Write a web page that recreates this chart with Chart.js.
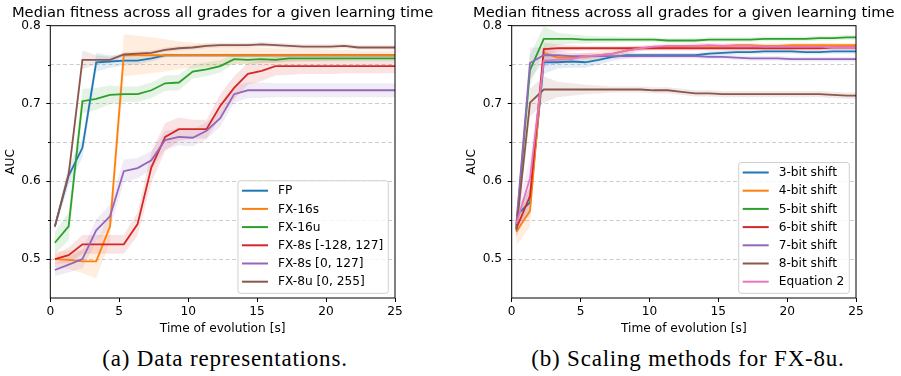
<!DOCTYPE html>
<html>
<head>
<meta charset="utf-8">
<script src="https://cdn.jsdelivr.net/npm/chart.js@4.4.1/dist/chart.umd.min.js"></script>
<style>
  body { margin: 0; background: #fff; }
  #wrap { position: relative; width: 901px; height: 376px; overflow: hidden; }
  canvas { position: absolute; top: 0; }
  .caption {
    position: absolute; top: 346px; width: 450px;
    font-family: "Liberation Serif", serif; font-size: 23px; line-height: 26px;
    letter-spacing: 0.8px; text-align: center; color: #000;
  }
</style>
</head>
<body>
<div id="wrap">
  <canvas id="reps" width="450" height="340" style="left:0"></canvas>
  <canvas id="scaling" width="451" height="340" style="left:450px"></canvas>
  <div class="caption" style="left:0">(a) Data representations.</div>
  <div class="caption" style="left:463px">(b) Scaling methods for FX-8u.</div>
</div>
<script>
Chart.defaults.font.family = "DejaVu Sans";
Chart.defaults.font.size = 12.2;
Chart.defaults.color = "#000";

var palette = ["#1f77b4", "#ff7f0e", "#2ca02c", "#d62728", "#9467bd", "#8c564b", "#e377c2"];
var titleText = "Median fitness across all grades for a given learning time";

// sample times (s), shared by both plots
var times = [0.33, 1.33, 2.33, 3.33, 4.33, 5.33, 6.33, 7.33, 8.33, 9.33, 10.33, 11.33, 12.33,
  13.33, 14.33, 15.33, 16.33, 17.33, 18.33, 19.33, 20.33, 21.33, 22.33, 23.33, 24.33, 25.33];

// (a) data representations: median AUC
var repNames = ["FP", "FX-16s", "FX-16u", "FX-8s [-128, 127]", "FX-8s [0, 127]", "FX-8u [0, 255]"];
var fp = [0.542, 0.607, 0.643, 0.753, 0.754, 0.755, 0.755, 0.758, 0.762, 0.762, 0.762, 0.762, 0.762,
  0.762, 0.762, 0.762, 0.762, 0.762, 0.762, 0.762, 0.762, 0.762, 0.762, 0.762, 0.762, 0.762];
var fx16s = [0.500, 0.499, 0.497, 0.497, 0.542, 0.762, 0.762, 0.762, 0.762, 0.762, 0.762, 0.762, 0.762,
  0.762, 0.762, 0.762, 0.762, 0.762, 0.762, 0.762, 0.762, 0.762, 0.762, 0.762, 0.762, 0.762];
var fx16u = [0.521, 0.542, 0.703, 0.706, 0.711, 0.712, 0.712, 0.717, 0.726, 0.727, 0.741, 0.744, 0.748,
  0.757, 0.756, 0.757, 0.756, 0.758, 0.758, 0.758, 0.758, 0.758, 0.758, 0.758, 0.758, 0.758];
var fx8sWide = [0.500, 0.505, 0.519, 0.519, 0.519, 0.519, 0.545, 0.618, 0.657, 0.667, 0.667, 0.667, 0.697,
  0.720, 0.738, 0.742, 0.748, 0.748, 0.748, 0.748, 0.748, 0.748, 0.748, 0.748, 0.748, 0.748];
var fx8sPos = [0.486, 0.493, 0.500, 0.537, 0.555, 0.613, 0.617, 0.627, 0.653, 0.657, 0.656, 0.665, 0.681,
  0.712, 0.717, 0.717, 0.717, 0.717, 0.717, 0.717, 0.717, 0.717, 0.717, 0.717, 0.717, 0.717];
var fx8u = [0.542, 0.609, 0.756, 0.756, 0.756, 0.763, 0.764, 0.765, 0.769, 0.771, 0.772, 0.774, 0.775,
  0.775, 0.775, 0.776, 0.775, 0.774, 0.773, 0.773, 0.773, 0.774, 0.772, 0.772, 0.772, 0.772];

// (a) half width of the shaded spread around each median
var fpSpread = [0.004, 0.012, 0.012, 0.012, 0.008, 0.006, 0.005, 0.004, 0.003, 0.002, 0.002, 0.002, 0.002,
  0.002, 0.002, 0.002, 0.002, 0.002, 0.002, 0.002, 0.002, 0.002, 0.002, 0.002, 0.002, 0.002];
var fx16sSpread = [0.010, 0.012, 0.015, 0.022, 0.020, 0.027, 0.025, 0.023, 0.021, 0.018, 0.016, 0.015, 0.014,
  0.012, 0.011, 0.010, 0.009, 0.009, 0.008, 0.008, 0.007, 0.007, 0.006, 0.006, 0.006, 0.006];
var fx16uSpread = [0.014, 0.018, 0.016, 0.014, 0.012, 0.010, 0.010, 0.010, 0.010, 0.010, 0.009, 0.009, 0.008,
  0.006, 0.005, 0.005, 0.004, 0.004, 0.004, 0.004, 0.004, 0.004, 0.004, 0.004, 0.004, 0.004];
var fx8sWideSpread = [0.006, 0.010, 0.012, 0.012, 0.012, 0.012, 0.015, 0.020, 0.018, 0.015, 0.012, 0.012, 0.015,
  0.015, 0.014, 0.013, 0.012, 0.011, 0.010, 0.010, 0.010, 0.009, 0.009, 0.009, 0.009, 0.009];
var fx8sPosSpread = [0.008, 0.010, 0.012, 0.014, 0.015, 0.015, 0.013, 0.012, 0.012, 0.011, 0.011, 0.011, 0.011,
  0.011, 0.010, 0.010, 0.009, 0.009, 0.009, 0.009, 0.009, 0.009, 0.009, 0.009, 0.009, 0.009];
var fx8uSpread = [0.004, 0.010, 0.012, 0.006, 0.004, 0.003, 0.003, 0.003, 0.003, 0.003, 0.003, 0.003, 0.003,
  0.003, 0.003, 0.003, 0.003, 0.003, 0.003, 0.003, 0.003, 0.003, 0.003, 0.003, 0.003, 0.003];

// (b) scaling methods for FX-8u: median AUC
var shiftNames = ["3-bit shift", "4-bit shift", "5-bit shift", "6-bit shift", "7-bit shift", "8-bit shift", "Equation 2"];
var shift3 = [0.556, 0.573, 0.753, 0.753, 0.754, 0.753, 0.756, 0.760, 0.762, 0.762, 0.762, 0.762, 0.762,
  0.762, 0.764, 0.765, 0.766, 0.766, 0.767, 0.767, 0.767, 0.766, 0.766, 0.767, 0.767, 0.767];
var shift4 = [0.535, 0.562, 0.765, 0.759, 0.759, 0.760, 0.762, 0.764, 0.768, 0.771, 0.772, 0.773, 0.773,
  0.774, 0.774, 0.774, 0.775, 0.775, 0.774, 0.774, 0.775, 0.775, 0.775, 0.775, 0.775, 0.775];
var shift5 = [0.540, 0.743, 0.783, 0.783, 0.783, 0.782, 0.782, 0.782, 0.782, 0.782, 0.782, 0.781, 0.781,
  0.781, 0.782, 0.782, 0.782, 0.782, 0.783, 0.783, 0.783, 0.783, 0.784, 0.784, 0.785, 0.785];
var shift6 = [0.539, 0.581, 0.770, 0.771, 0.771, 0.771, 0.771, 0.771, 0.771, 0.771, 0.771, 0.771, 0.771,
  0.771, 0.771, 0.771, 0.771, 0.771, 0.771, 0.771, 0.771, 0.771, 0.771, 0.772, 0.772, 0.772];
var shift7 = [0.543, 0.752, 0.762, 0.762, 0.761, 0.761, 0.761, 0.761, 0.761, 0.761, 0.761, 0.761, 0.761,
  0.761, 0.760, 0.760, 0.759, 0.758, 0.758, 0.758, 0.757, 0.757, 0.757, 0.757, 0.757, 0.757];
var shift8 = [0.537, 0.701, 0.718, 0.718, 0.718, 0.718, 0.718, 0.718, 0.718, 0.718, 0.717, 0.717, 0.715,
  0.713, 0.713, 0.712, 0.712, 0.712, 0.712, 0.712, 0.712, 0.712, 0.712, 0.711, 0.710, 0.710];
var equation2 = [0.545, 0.604, 0.755, 0.756, 0.757, 0.761, 0.762, 0.764, 0.768, 0.771, 0.773, 0.774, 0.774,
  0.774, 0.775, 0.774, 0.774, 0.774, 0.773, 0.773, 0.773, 0.773, 0.773, 0.772, 0.772, 0.772];

// (b) half width of the shaded spread
var shift3Spread = [0.010, 0.018, 0.015, 0.008, 0.008, 0.007, 0.006, 0.005, 0.004, 0.003, 0.003, 0.003, 0.003,
  0.003, 0.003, 0.003, 0.003, 0.003, 0.003, 0.003, 0.003, 0.003, 0.003, 0.003, 0.003, 0.003];
var shift4Spread = [0.018, 0.020, 0.008, 0.006, 0.006, 0.005, 0.005, 0.005, 0.005, 0.004, 0.003, 0.003, 0.003,
  0.003, 0.003, 0.003, 0.003, 0.003, 0.003, 0.003, 0.003, 0.003, 0.003, 0.003, 0.003, 0.003];
var shift5Spread = [0.015, 0.020, 0.016, 0.008, 0.006, 0.005, 0.004, 0.004, 0.003, 0.003, 0.003, 0.003, 0.003,
  0.003, 0.003, 0.003, 0.003, 0.003, 0.003, 0.003, 0.003, 0.003, 0.003, 0.003, 0.003, 0.003];
var shift6Spread = [0.010, 0.015, 0.008, 0.005, 0.004, 0.003, 0.003, 0.003, 0.003, 0.003, 0.003, 0.003, 0.003,
  0.003, 0.003, 0.003, 0.003, 0.003, 0.003, 0.003, 0.003, 0.003, 0.003, 0.003, 0.003, 0.003];
var shift7Spread = [0.015, 0.020, 0.010, 0.006, 0.004, 0.004, 0.003, 0.003, 0.003, 0.003, 0.003, 0.003, 0.003,
  0.003, 0.003, 0.003, 0.003, 0.003, 0.003, 0.003, 0.003, 0.003, 0.003, 0.003, 0.003, 0.003];
var shift8Spread = [0.010, 0.018, 0.017, 0.010, 0.008, 0.006, 0.005, 0.004, 0.004, 0.004, 0.004, 0.004, 0.004,
  0.004, 0.004, 0.004, 0.004, 0.004, 0.004, 0.004, 0.004, 0.004, 0.004, 0.004, 0.004, 0.004];
var equation2Spread = [0.020, 0.025, 0.008, 0.005, 0.004, 0.004, 0.003, 0.003, 0.003, 0.003, 0.003, 0.003, 0.003,
  0.003, 0.003, 0.003, 0.003, 0.003, 0.003, 0.003, 0.003, 0.003, 0.003, 0.003, 0.003, 0.003];

var yTicks = [0.5, 0.6, 0.7, 0.8];
var xTicks = [0, 5, 10, 15, 20, 25];

function hex_alpha(hex, a) {
  var n = parseInt(hex.slice(1), 16);
  return "rgba(" + (n >> 16) + "," + ((n >> 8) & 255) + "," + (n & 255) + "," + a + ")";
}

function points(values, offset, sign) {
  return times.map(function (t, k) {
    return { x: t, y: values[k] + (offset ? sign * offset[k] : 0) };
  });
}

function is_major(v) {
  return yTicks.some(function (m) { return Math.abs(m - v) < 1e-6; });
}

// frame, minor ticks, title and legend box, drawn the way the axes look in the paper
var axesFrame = {
  id: "axesFrame",
  afterDraw: function (chart, args, opts) {
    var ctx = chart.ctx;
    var a = chart.chartArea;
    var y = chart.scales.y;
    ctx.save();
    ctx.strokeStyle = "#000";
    ctx.lineWidth = 1;
    y.ticks.forEach(function (t) {
      if (is_major(t.value) || t.value < 0.455) return;
      var py = Math.round(y.getPixelForValue(t.value)) + 0.5;
      ctx.beginPath();
      ctx.moveTo(a.left - 2.3, py);
      ctx.lineTo(a.left, py);
      ctx.stroke();
    });
    ctx.strokeRect(a.left, a.top, a.right - a.left, a.bottom - a.top);

    ctx.fillStyle = "#000";
    ctx.font = "14.7px 'DejaVu Sans'";
    ctx.textAlign = "center";
    ctx.textBaseline = "middle";
    ctx.fillText(titleText, (a.left + a.right) / 2, 13);

    // legend
    var entries = chart.data.datasets.filter(function (d) { return d.isLine; });
    ctx.font = "12.2px 'DejaVu Sans'";
    var textW = 0;
    entries.forEach(function (d) { textW = Math.max(textW, ctx.measureText(d.label).width); });
    var rowH = 18.2;
    var boxW = 4 + 26 + 10 + textW + 5;
    var boxH = 10 + (entries.length - 1) * rowH + 11.6;
    var bx = a.right - 6.7 - boxW;
    var by = a.bottom - 4.7 - boxH;
    ctx.beginPath();
    ctx.roundRect(bx, by, boxW, boxH, 2.5);
    ctx.fillStyle = "rgba(255,255,255,0.8)";
    ctx.fill();
    ctx.strokeStyle = "#d0d0d0";
    ctx.stroke();
    ctx.textAlign = "left";
    entries.forEach(function (d, i) {
      var cy = by + 10 + i * rowH;
      ctx.strokeStyle = d.borderColor;
      ctx.lineWidth = 2;
      ctx.beginPath();
      ctx.moveTo(bx + 4, cy);
      ctx.lineTo(bx + 30, cy);
      ctx.stroke();
      ctx.fillStyle = "#000";
      ctx.fillText(d.label, bx + 40, cy + 0.5);
    });
    ctx.restore();
  },
};

function build_chart(id, names, series, spreads, rightPad, yWidth, yTitlePad) {
  var datasets = [];
  series.forEach(function (values, i) {
    var color = palette[i];
    datasets.push({
      data: points(values, spreads[i], 1),
      borderWidth: 0, pointRadius: 0, fill: "+1",
      backgroundColor: hex_alpha(color, 0.13), order: 100,
    });
    datasets.push({
      data: points(values, spreads[i], -1),
      borderWidth: 0, pointRadius: 0, fill: false, order: 100,
    });
  });
  series.forEach(function (values, i) {
    datasets.push({
      label: names[i], isLine: true,
      data: points(values),
      borderColor: palette[i], borderWidth: 1.8,
      pointRadius: 0, fill: false, tension: 0,
      order: series.length - i,
    });
  });

  var config = {
    type: "line",
    data: { datasets: datasets },
    options: {
      responsive: false,
      animation: false,
      devicePixelRatio: 1,
      layout: { padding: { left: 0, right: rightPad, top: 25.7, bottom: 0 } },
      plugins: { legend: { display: false }, tooltip: { enabled: false } },
      scales: {
        x: {
          type: "linear", min: 0, max: 25,
          afterBuildTicks: function (s) { s.ticks = xTicks.map(function (v) { return { value: v }; }); },
          afterFit: function (s) { s.height = 42; },
          ticks: { padding: 2.5, maxRotation: 0, color: "#000" },
          grid: { drawOnChartArea: false, tickLength: 4, tickColor: "#000" },
          border: { display: false },
          title: { display: true, text: "Time of evolution [s]", padding: { top: 0, bottom: 3.7 } },
        },
        y: {
          min: 0.45, max: 0.8,
          ticks: {
            stepSize: 0.05, autoSkip: false, padding: 5.6, color: "#000",
            callback: function (v) { return is_major(v) ? v.toFixed(1) : ""; },
          },
          afterFit: function (s) { s.width = yWidth; },
          grid: {
            tickLength: 4,
            color: function (c) {
              if (!c.tick) return "rgba(0,0,0,0)";
              var v = c.tick.value;
              return v < 0.455 || v > 0.795 ? "rgba(0,0,0,0)" : "#cdcdcd";
            },
            tickColor: function (c) {
              return c.tick && is_major(c.tick.value) ? "#000" : "rgba(0,0,0,0)";
            },
          },
          border: { display: false, dash: [4, 2.5] },
          title: { display: true, text: "AUC", padding: { top: yTitlePad, bottom: 0 } },
        },
      },
    },
    plugins: [axesFrame],
  };
  var canvas = document.getElementById(id);
  canvas.chart = new Chart(canvas.getContext("2d"), config);
}

build_chart("reps", repNames,
  [fp, fx16s, fx16u, fx8sWide, fx8sPos, fx8u],
  [fpSpread, fx16sSpread, fx16uSpread, fx8sWideSpread, fx8sPosSpread, fx8uSpread],
  55, 50.3, 3.7);

build_chart("scaling", shiftNames,
  [shift3, shift4, shift5, shift6, shift7, shift8, equation2],
  [shift3Spread, shift4Spread, shift5Spread, shift6Spread, shift7Spread, shift8Spread, equation2Spread],
  45, 61.7, 14.7);
</script>
</body>
</html>
